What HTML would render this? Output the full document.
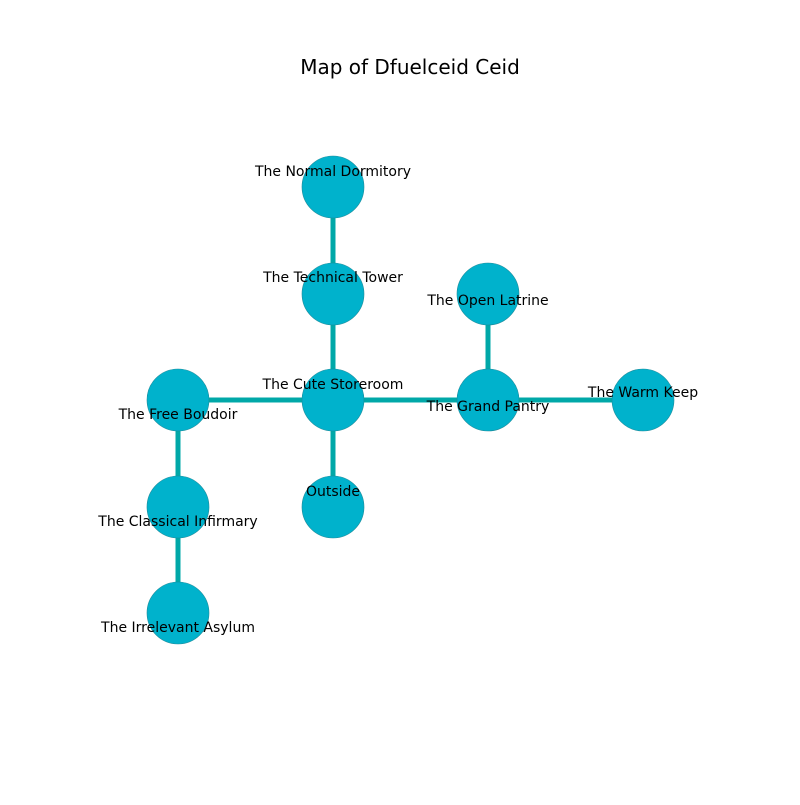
<!DOCTYPE html>
<html><head><style>body{margin:0;background:#fff}</style></head><body>
<svg width="800" height="800" xmlns="http://www.w3.org/2000/svg" font-family="DejaVu Sans, sans-serif">
<rect width="800" height="800" fill="#fff"/>
<text x="410" y="74" font-size="20" text-anchor="middle">Map of Dfuelceid Ceid</text>
<g stroke="#00a8a8" stroke-width="5">
<line x1="333" y1="187" x2="333" y2="507"/>
<line x1="178" y1="400" x2="643" y2="400"/>
<line x1="178" y1="400" x2="178" y2="613"/>
<line x1="488" y1="294" x2="488" y2="400"/>
</g>
<g fill="#00b2cc" stroke="#1a8a9a" stroke-width="0.6">
<circle cx="333" cy="187" r="31"/><circle cx="333" cy="294" r="31"/>
<circle cx="333" cy="400" r="31"/><circle cx="333" cy="507" r="31"/>
<circle cx="178" cy="400" r="31"/><circle cx="178" cy="507" r="31"/>
<circle cx="178" cy="613" r="31"/><circle cx="488" cy="294" r="31"/>
<circle cx="488" cy="400" r="31"/><circle cx="643" cy="400" r="31"/>
</g>
<g font-size="14" text-anchor="middle" fill="#000">
<text x="333" y="176">The Normal Dormitory</text>
<text x="333" y="282">The Technical Tower</text>
<text x="333" y="389">The Cute Storeroom</text>
<text x="333" y="496">Outside</text>
<text x="178" y="419">The Free Boudoir</text>
<text x="178" y="526">The Classical Infirmary</text>
<text x="178" y="632">The Irrelevant Asylum</text>
<text x="488" y="305">The Open Latrine</text>
<text x="488" y="411">The Grand Pantry</text>
<text x="643" y="397">The Warm Keep</text>
</g>
</svg>
</body></html>
